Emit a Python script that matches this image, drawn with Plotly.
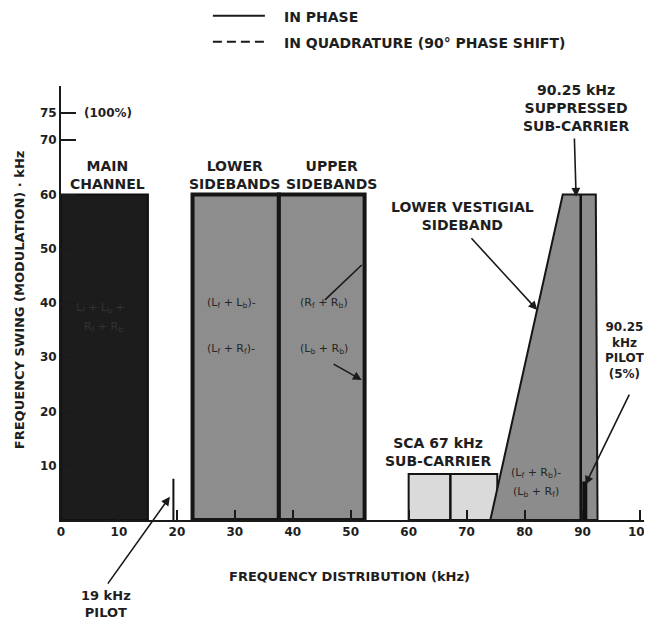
import plotly.graph_objects as go

# ---------------- data ----------------
band_names = ["MAIN CHANNEL", "LOWER SIDEBANDS", "UPPER SIDEBANDS", "SCA 67 kHz SUB-CARRIER"]
band_lo_khz = [0.0, 22.7, 37.6, 60.0]
band_hi_khz = [15.0, 37.6, 52.4, 75.3]
band_swing_khz = [60.0, 60.0, 60.0, 8.5]

vsb_freq_khz = [74.1, 86.6, 92.3, 92.6]
vsb_swing_khz = [0.0, 60.0, 60.0, 0.0]

carrier_names = ["19 kHz pilot", "SCA 67 kHz carrier", "90.25 kHz suppressed sub-carrier", "90.25 kHz pilot"]
carrier_freq_khz = [19.4, 67.2, 89.7, 90.4]
carrier_swing_khz = [7.6, 8.5, 60.0, 7.1]

x_tick_vals = [0, 10, 20, 30, 40, 50, 60, 70, 80, 90, 100]
y_tick_vals = [10, 20, 30, 40, 50, 60, 70, 75]

# ---------------- styles ----------------
FONT = "DejaVu Sans"
INK = "#1e1e1e"
band_styles = [
    dict(fill="#1c1c1c", line="#111111", width=2),
    dict(fill="#8d8d8d", line="#151515", width=4),
    dict(fill="#8d8d8d", line="#151515", width=4),
    dict(fill="#dadada", line="#151515", width=2),
]
carrier_widths = [2, 2.5, 2.5, 5]

fig = go.Figure()

def band_trace(lo, hi, h, st, name):
    return go.Scatter(
        x=[lo, lo, hi, hi, lo], y=[0, h, h, 0, 0],
        mode="lines", fill="toself", fillcolor=st["fill"],
        line=dict(color=st["line"], width=st["width"]),
        name=name, showlegend=False, hoverinfo="name",
    )

# main channel, SCA first; then vestigial sideband; then stereo sidebands
for i in [0, 3]:
    fig.add_trace(band_trace(band_lo_khz[i], band_hi_khz[i], band_swing_khz[i], band_styles[i], band_names[i]))

fig.add_trace(go.Scatter(
    x=vsb_freq_khz + [vsb_freq_khz[0]], y=vsb_swing_khz + [vsb_swing_khz[0]],
    mode="lines", fill="toself", fillcolor="#8c8c8c",
    line=dict(color="#151515", width=2), showlegend=False,
    name="LOWER VESTIGIAL SIDEBAND", hoverinfo="name",
))

for i in [1, 2]:
    fig.add_trace(band_trace(band_lo_khz[i], band_hi_khz[i], band_swing_khz[i], band_styles[i], band_names[i]))

for f, h, w, n in zip(carrier_freq_khz, carrier_swing_khz, carrier_widths, carrier_names):
    fig.add_trace(go.Scatter(x=[f, f], y=[0, h], mode="lines",
                             line=dict(color="#111111", width=w),
                             showlegend=False, name=n, hoverinfo="name"))

annotations = []

def label(x, y, text, size=14, color=INK, xref="x", yref="y", xanchor="center", weight="bold"):
    annotations.append(dict(
        x=x, y=y, xref=xref, yref=yref, text=text, showarrow=False,
        xanchor=xanchor, yanchor="middle", align="center",
        font=dict(family=FONT, size=size, color=color, weight=weight),
    ))

def arrow(tip_x, tip_y, tail_x, tail_y, head=True):
    annotations.append(dict(
        x=tip_x, y=tip_y, ax=tail_x, ay=tail_y, xref="x", yref="y",
        axref="x", ayref="y", text="", showarrow=True,
        arrowhead=2 if head else 0, arrowsize=1.1, arrowwidth=1.6,
        arrowcolor="#1a1a1a", standoff=0, startstandoff=0,
    ))

# band titles
label(8.1, 63.6, "MAIN<br>CHANNEL")
label(29.9, 63.6, "LOWER<br>SIDEBANDS")
label(46.6, 63.6, "UPPER<br>SIDEBANDS")
label(69.3, 56.0, "LOWER VESTIGIAL<br>SIDEBAND")
label(88.9, 75.9, "90.25 kHz<br>SUPPRESSED<br>SUB-CARRIER")
label(97.4, 31.2, "90.25<br>kHz<br>PILOT<br>(5%)", size=12)
label(65.1, 12.6, "SCA 67 kHz<br>SUB-CARRIER")
label(3.6, 75.0, "(100%)", size=12, xanchor="left")

# signal content inside the bands
label(6.9, 39.0, "L<sub>f</sub> + L<sub>b</sub> +", size=11, color="#333333", weight="normal")
label(7.3, 35.6, "R<sub>f</sub> + R<sub>b</sub>", size=11, color="#333333", weight="normal")
label(29.4, 40.0, "(L<sub>f</sub> + L<sub>b</sub>)-", size=11, color="#262626", weight="normal")
label(29.4, 31.5, "(L<sub>f</sub> + R<sub>f</sub>)-", size=11, color="#262626", weight="normal")
label(45.4, 40.0, "(R<sub>f</sub> + R<sub>b</sub>)", size=11, color="#262626", weight="normal")
label(45.4, 31.5, "(L<sub>b</sub> + R<sub>b</sub>)", size=11, color="#262626", weight="normal")
label(81.9, 8.7, "(L<sub>f</sub> + R<sub>b</sub>)-", size=11, color="#262626", weight="normal")
label(81.9, 5.2, "(L<sub>b</sub> + R<sub>f</sub>)", size=11, color="#262626", weight="normal")

# pointer arrows
arrow(88.9, 59.6, 88.6, 70.6)          # suppressed sub-carrier
arrow(82.2, 38.7, 70.6, 52.2)          # lower vestigial sideband
arrow(90.5, 6.5, 98.2, 23.4)           # 90.25 kHz pilot
arrow(18.8, 4.3, 7.9, -12.0)           # 19 kHz pilot
arrow(51.9, 47.0, 45.3, 40.3, head=False)
arrow(51.9, 25.8, 46.8, 28.9)

# labels outside the plotting area (paper coordinates)
label(0.0761, -0.194, "19 kHz<br>PILOT", size=13, xref="paper", yref="paper")
label(0.489, -0.131, "FREQUENCY DISTRIBUTION (kHz)", size=13, xref="paper", yref="paper")
annotations.append(dict(
    x=-0.069, y=0.507, xref="paper", yref="paper", showarrow=False,
    text="FREQUENCY SWING (MODULATION) · kHz", textangle=-90,
    xanchor="center", yanchor="middle",
    font=dict(family=FONT, size=13, color=INK, weight="bold"),
))

# key
label(0.374, 1.159, "IN PHASE", xref="paper", yref="paper", xanchor="left")
label(0.374, 1.099, "IN QUADRATURE (90° PHASE SHIFT)", xref="paper", yref="paper", xanchor="left")
shapes = [
    dict(type="line", xref="paper", yref="paper", x0=0.257, x1=0.345, y0=1.162, y1=1.162,
         line=dict(color="#1a1a1a", width=2)),
    dict(type="line", xref="paper", yref="paper", x0=0.257, x1=0.345, y0=1.102, y1=1.102,
         line=dict(color="#1a1a1a", width=2, dash="9px,5px")),
]

# the page body has an 8px default margin, so the figure is sized to fit it
fig.update_layout(
    width=644, height=612,
    margin=dict(l=53, r=0, t=78, b=100),
    paper_bgcolor="white", plot_bgcolor="white",
    font=dict(family=FONT, size=13, color=INK),
    showlegend=False,
    annotations=annotations,
    shapes=shapes,
    xaxis=dict(
        range=[0, 102], showgrid=False, zeroline=False,
        showline=True, linecolor="#1a1a1a", linewidth=2,
        tickmode="array", tickvals=x_tick_vals, ticktext=[str(v) for v in x_tick_vals],
        ticks="inside", ticklen=10, tickwidth=1.6, tickcolor="#1a1a1a",
        tickfont=dict(family=FONT, size=12, color=INK, weight="bold"),
        ticklabeloverflow="allow",
    ),
    yaxis=dict(
        range=[0, 80], showgrid=False, zeroline=False,
        showline=True, linecolor="#1a1a1a", linewidth=2,
        tickmode="array", tickvals=y_tick_vals, ticktext=[str(v) for v in y_tick_vals],
        ticks="inside", ticklen=15, tickwidth=2, tickcolor="#1a1a1a",
        tickfont=dict(family=FONT, size=12, color=INK, weight="bold"),
    ),
)

fig.write_html("out.html")
